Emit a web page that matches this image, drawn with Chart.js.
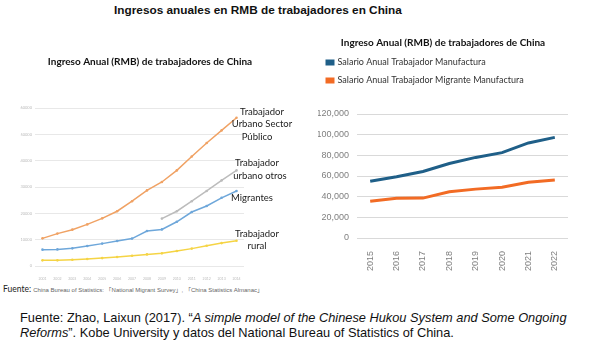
<!DOCTYPE html>
<html>
<head>
<meta charset="utf-8">
<script src="https://cdn.jsdelivr.net/npm/chart.js@4.4.0/dist/chart.umd.min.js"></script>
<style>
  body { margin: 0; width: 590px; height: 343px; background: #fff; position: relative; overflow: hidden; font-family: "Liberation Sans", Arial, sans-serif; }
  #titulo { position: absolute; top: 3px; left: 0; width: 516px; text-align: center; font-weight: bold; font-size: 11.8px; color: #111; white-space: nowrap; }
  #izq { position: absolute; left: 0; top: 30px; }
  #der { position: absolute; left: 300px; top: 30px; }
  #fuente1 { position: absolute; left: 3px; top: 284px; font-family: Lato, sans-serif; font-size: 8.5px; color: #222; white-space: nowrap; }
  #fuente1 span { font-family: "Liberation Sans", "Noto Sans CJK JP", sans-serif; font-size: 6px; color: #666; }
  #nota { position: absolute; left: 20px; top: 310px; font-size: 12.8px; line-height: 15px; color: #111; white-space: nowrap; }
</style>
</head>
<body>
<div id="titulo">Ingresos anuales en RMB de trabajadores en China</div>
<canvas id="izq" width="300" height="250"></canvas>
<canvas id="der" width="290" height="250"></canvas>
<div id="fuente1">Fuente: <span>China Bureau of Statistics: 「National Migrant Survey」, 「China Statistics Almanac」</span></div>
<div id="nota">Fuente: Zhao, Laixun (2017). “<i>A simple model of the Chinese Hukou System and Some Ongoing</i><br><i>Reforms</i>”. Kobe University y datos del National Bureau of Statistics of China.</div>

<script>
/* datos grafico izquierdo (2001-2014) */
const anios = ['2001', '2002', '2003', '2004', '2005', '2006', '2007', '2008', '2009', '2010', '2011', '2012', '2013', '2014'];
const urbanoPublico = [10500, 12300, 13800, 15800, 18100, 20800, 24600, 28700, 31900, 36300, 41600, 46700, 51500, 56300];
const urbanoOtros = [null, null, null, null, null, null, null, null, 18000, 20800, 24600, 28500, 32500, 36300];
const migrantes = [6200, 6300, 6700, 7600, 8500, 9500, 10400, 13300, 13900, 16800, 20500, 22800, 25900, 28500];
const rural = [2150, 2150, 2400, 2650, 3000, 3400, 3900, 4400, 4800, 5700, 6600, 7700, 8700, 9600];

/* datos grafico derecho (2015-2022) */
const aniosDer = ['2015', '2016', '2017', '2018', '2019', '2020', '2021', '2022'];
const salarioManufactura = [55000, 59300, 64400, 72100, 78000, 82600, 92000, 97400];
const salarioMigrante = [35600, 38500, 38600, 44700, 47300, 49200, 53900, 56100];

Chart.defaults.font.family = 'Lato';

/* titulo y etiquetas a la derecha del grafico izquierdo */
const textosIzq = {
	id: 'textosIzq',
	afterDraw(chart) {
		const ctx = chart.ctx;
		ctx.save();
		ctx.textAlign = 'center';
		ctx.textBaseline = 'middle';
		ctx.fillStyle = '#111';
		ctx.font = 'bold 10px Lato';
		ctx.fillText('Ingreso Anual (RMB) de trabajadores de China', 150, 32);
		ctx.fillStyle = '#222';
		ctx.font = '9.5px Lato';
		const etiquetas = [
			['Trabajador', 262, 82], ['Urbano Sector', 262, 94], ['Público', 257, 107],
			['Trabajador', 257, 133], ['urbano otros', 260, 146],
			['Migrantes', 252, 168],
			['Trabajador', 257, 204], ['rural', 257, 216]
		];
		etiquetas.forEach(function(e) {
			ctx.fillText(e[0], e[1], e[2]);
		});
		ctx.restore();
	}
};

/* espacio extra debajo de la leyenda */
const espacioLeyenda = {
	id: 'espacioLeyenda',
	beforeInit(chart) {
		const leyenda = chart.legend;
		if (!leyenda) return;
		const fitOriginal = leyenda.fit;
		leyenda.fit = function() {
			fitOriginal.call(this);
			this.height += 19;
		};
	}
};

new Chart(document.getElementById('izq'), {
	type: 'line',
	data: {
		labels: anios,
		datasets: [
			{ data: urbanoPublico, borderColor: '#f0a264', backgroundColor: '#f0a264' },
			{ data: urbanoOtros, borderColor: '#bcbcbc', backgroundColor: '#bcbcbc' },
			{ data: migrantes, borderColor: '#6ea7da', backgroundColor: '#6ea7da' },
			{ data: rural, borderColor: '#f5d445', backgroundColor: '#f5d445' }
		]
	},
	options: {
		responsive: false,
		animation: false,
		layout: { padding: { left: 0, right: 56, top: 78, bottom: 0 } },
		elements: {
			line: { borderWidth: 1.5, tension: 0 },
			point: { radius: 1.3, borderWidth: 0 }
		},
		plugins: { legend: { display: false }, tooltip: { enabled: false } },
		scales: {
			x: {
				offset: true,
				grid: { display: false },
				border: { display: false },
				ticks: { font: { size: 3.5 }, color: '#bbb', padding: 3, maxRotation: 0, autoSkip: false },
				afterFit(s) { s.height = 14; }
			},
			y: {
				min: 0,
				max: 60000,
				ticks: { stepSize: 10000, font: { size: 4 }, color: '#bbb', padding: 3, callback: v => v },
				grid: { color: '#e8e8e8', drawTicks: false },
				border: { display: false },
				afterFit(s) { s.width = 35; }
			}
		}
	},
	plugins: [textosIzq]
});

new Chart(document.getElementById('der'), {
	type: 'line',
	data: {
		labels: aniosDer,
		datasets: [
			{ label: 'Salario Anual Trabajador Manufactura', data: salarioManufactura, borderColor: '#1f5f88', backgroundColor: '#1f5f88' },
			{ label: 'Salario Anual Trabajador Migrante Manufactura', data: salarioMigrante, borderColor: '#f26b24', backgroundColor: '#f26b24' }
		]
	},
	options: {
		responsive: false,
		animation: false,
		locale: 'en-US',
		layout: { padding: { left: 18, right: 22, top: 0, bottom: 0 } },
		elements: {
			line: { borderWidth: 3, tension: 0 },
			point: { radius: 0 }
		},
		plugins: {
			title: {
				display: true,
				text: 'Ingreso Anual (RMB) de trabajadores de China',
				color: '#111',
				font: { size: 10, weight: 'bold' },
				padding: { top: 7, bottom: 0 }
			},
			legend: {
				align: 'start',
				labels: { boxWidth: 6, boxHeight: 3, padding: 9, color: '#333', font: { size: 9 } }
			},
			tooltip: { enabled: false }
		},
		scales: {
			x: {
				offset: true,
				grid: { display: false },
				border: { display: false },
				ticks: { font: { family: 'Liberation Sans', size: 9 }, color: '#7f7f7f', padding: 5, minRotation: 90, maxRotation: 90 },
				afterFit(s) { s.height = 42; }
			},
			y: {
				min: 0,
				max: 120000,
				ticks: { stepSize: 20000, font: { family: 'Liberation Sans', size: 9 }, color: '#7f7f7f', padding: 8 },
				grid: { color: '#d9d9d9', drawTicks: false },
				border: { display: false },
				afterFit(s) { s.width = 39; }
			}
		}
	},
	plugins: [espacioLeyenda]
});
</script>
</body>
</html>
